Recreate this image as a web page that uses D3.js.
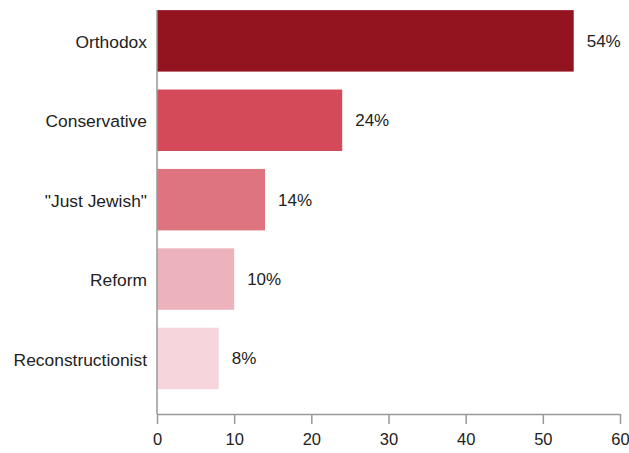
<!DOCTYPE html>
<html>
<head>
<meta charset="utf-8">
<script src="https://cdn.jsdelivr.net/npm/d3@7"></script>
<style>
  body { margin: 0; background: #fff; }
  svg { display: block; font-family: "Liberation Sans", Arial, sans-serif; }
</style>
</head>
<body>
<svg id="chart" width="629" height="453"></svg>
<script>
// data
const categories = ["Orthodox", "Conservative", "\"Just Jewish\"", "Reform", "Reconstructionist"];
const values = [54, 24, 14, 10, 8];
const barColors = ["#93141f", "#d44a58", "#dd7480", "#ecb3bd", "#f6d6dc"];
const xTicks = [0, 10, 20, 30, 40, 50, 60];

const svg = d3.select("#chart");
const margin = { top: 0, left: 157, right: 9, bottom: 39 };
const W = 629, H = 453;
const axisY = H - margin.bottom;

const x = d3.scaleLinear().domain([0, 60]).range([margin.left, W - margin.right]);
const y = d3.scaleBand()
  .domain(categories)
  .range([margin.top, axisY])
  .paddingInner(0.226)
  .paddingOuter(0.22)
  .align(0.29);

const rows = categories.map((c, i) => ({ cat: c, val: values[i], color: barColors[i] }));

// bars
svg.append("g")
  .selectAll("rect")
  .data(rows)
  .enter().append("rect")
    .attr("x", x(0))
    .attr("y", d => y(d.cat))
    .attr("width", d => x(d.val) - x(0))
    .attr("height", y.bandwidth())
    .attr("fill", d => d.color);

// value labels
svg.append("g")
  .selectAll("text")
  .data(rows)
  .enter().append("text")
    .attr("x", d => x(d.val) + 13)
    .attr("y", d => y(d.cat) + y.bandwidth() / 2)
    .attr("dy", "0.35em")
    .attr("font-size", 17)
    .attr("fill", "#222")
    .text(d => d.val + "%");

// category labels
svg.append("g")
  .selectAll("text")
  .data(rows)
  .enter().append("text")
    .attr("x", margin.left - 10)
    .attr("y", d => y(d.cat) + y.bandwidth() / 2 + 1)
    .attr("dy", "0.35em")
    .attr("text-anchor", "end")
    .attr("font-size", 17.4)
    .attr("fill", "#222")
    .text(d => d.cat);

// y axis line (starts at the first bar)
svg.append("line")
  .attr("x1", x(0)).attr("x2", x(0))
  .attr("y1", y(categories[0])).attr("y2", axisY)
  .attr("stroke", "#999")
  .attr("stroke-width", 1.5);

// x axis
const xAxis = svg.append("g")
  .attr("transform", `translate(0,${axisY})`)
  .call(d3.axisBottom(x).tickValues(xTicks).tickSize(10).tickPadding(9).tickSizeOuter(0));
xAxis.select(".domain").attr("stroke", "#999").attr("stroke-width", 1.5);
xAxis.selectAll(".tick line").attr("stroke", "#999").attr("stroke-width", 1.5);
xAxis.selectAll(".tick text")
  .attr("font-size", 16.5)
  .attr("font-family", "\"Liberation Sans\", Arial, sans-serif")
  .attr("fill", "#222");
</script>
</body>
</html>
